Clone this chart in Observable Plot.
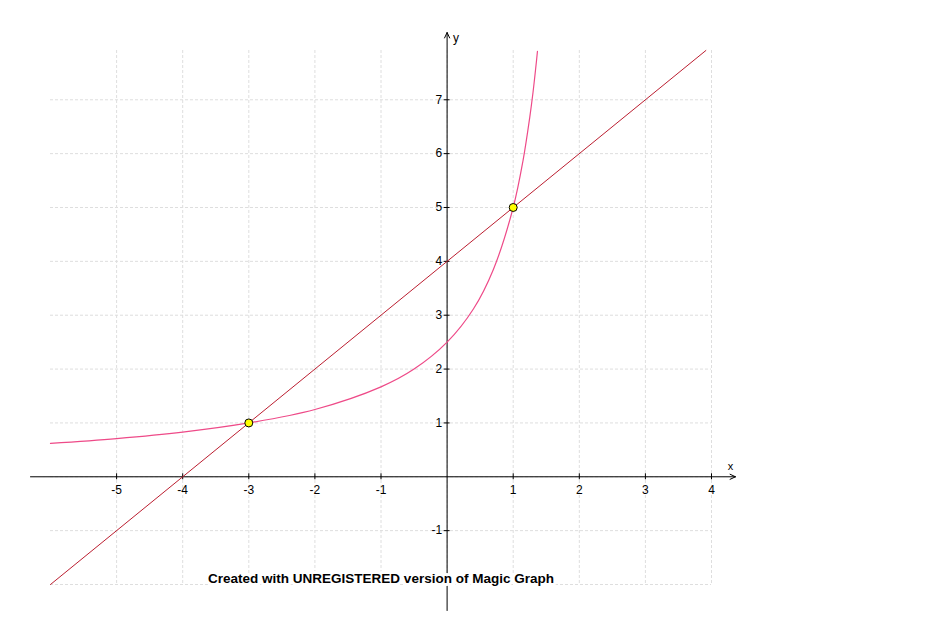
<!DOCTYPE html>
<html>
<head>
<meta charset="utf-8">
<script src="https://cdn.jsdelivr.net/npm/d3@7"></script>
<script src="https://cdn.jsdelivr.net/npm/@observablehq/plot@0.6"></script>
<style>
  html, body { margin: 0; padding: 0; background: #fff; }
  svg { display: block; }
</style>
</head>
<body>
<div id="chart"></div>
<script>
// Axis domains
const xDomain = [-6, 4];
const yDomain = [-2, 7.915];

// Tick values / labels
const xTicks = [-5, -4, -3, -2, -1, 1, 2, 3, 4];
const yTicks = [-1, 1, 2, 3, 4, 5, 6, 7];
const xGrid = [-5, -4, -3, -2, -1, 0, 1, 2, 3, 4];
const yGrid = [-2, -1, 0, 1, 2, 3, 4, 5, 6, 7];

// Straight line (read endpoints)
const lineX = [-6, 3.915];
const lineY = [-2, 7.915];

// Curve points
const curveX = [-6, -5, -4, -3, -2, -1, -0.5, 0, 0.4, 0.7, 1, 1.15, 1.25, 1.3, 1.34, 1.367];
const curveY = [0.62, 0.71, 0.83, 1.0, 1.25, 1.67, 2.0, 2.5, 3.12, 3.85, 5.0, 5.88, 6.67, 7.14, 7.58, 7.9];

// Intersection points
const ptX = [-3, 1];
const ptY = [1, 5];

const caption = "Created with UNREGISTERED version of Magic Graph";

const lineData = lineX.map((x, i) => ({x, y: lineY[i]}));
const curveData = curveX.map((x, i) => ({x, y: curveY[i]}));
const pts = ptX.map((x, i) => ({x, y: ptY[i]}));

const font = "Liberation Sans, Arial, sans-serif";
const gridStyle = {stroke: "#dedede", strokeDasharray: "3,2", strokeWidth: 1};

const chart = Plot.plot({
  width: 950,
  height: 639,
  marginLeft: 50,
  marginRight: 239,
  marginTop: 50,
  marginBottom: 55,
  style: {background: "#fff", fontFamily: font, fontSize: "12px", overflow: "visible"},
  x: {domain: xDomain, axis: null},
  y: {domain: yDomain, axis: null},
  marks: [
    Plot.ruleX(xGrid, {x: d => d, ...gridStyle}),
    Plot.ruleY(yGrid, {y: d => d, ...gridStyle}),
    // axes with arrowheads
    Plot.arrow([0], {x1: xDomain[0], x2: xDomain[1], y1: 0, y2: 0, insetStart: -20, insetEnd: -24,
      stroke: "#000", strokeWidth: 1, headLength: 9, headAngle: 50, bend: 0}),
    Plot.arrow([0], {x1: 0, x2: 0, y1: yDomain[0], y2: yDomain[1], insetStart: -26, insetEnd: -18,
      stroke: "#000", strokeWidth: 1, headLength: 9, headAngle: 50, bend: 0}),
    // tick marks
    Plot.ruleX(xTicks, {x: d => d, y1: 0, y2: 0, insetTop: -3, insetBottom: -3, stroke: "#000"}),
    Plot.ruleY(yTicks, {y: d => d, x1: 0, x2: 0, insetLeft: -3, insetRight: -3, stroke: "#000"}),
    // tick labels
    Plot.text(xTicks, {x: d => d, y: 0, text: d => String(d), dy: 13, fill: "#000", fontSize: 12}),
    Plot.text(yTicks, {x: 0, y: d => d, text: d => String(d), dx: -5, textAnchor: "end", fill: "#000", fontSize: 12}),
    // axis names
    Plot.text(["x"], {x: xDomain[1], y: 0, text: d => d, dx: 19, dy: -10, fill: "#000", fontSize: 11}),
    Plot.text(["y"], {x: 0, y: yDomain[1], text: d => d, dx: 6, dy: -12, textAnchor: "start", fill: "#000", fontSize: 12}),
    // data
    Plot.line(lineData, {x: "x", y: "y", stroke: "#bb1e30", strokeWidth: 1}),
    Plot.line(curveData, {x: "x", y: "y", stroke: "#ee4a88", strokeWidth: 1.2, curve: "catmull-rom"}),
    Plot.dot(pts, {x: "x", y: "y", r: 4, fill: "#ffff00", stroke: "#000", strokeWidth: 1}),
    // caption
    Plot.text([caption], {frameAnchor: "bottom", text: d => d, dy: -2, fontWeight: "bold", fontSize: 13.5,
      fill: "#000", stroke: "#fff", strokeWidth: 6})
  ]
});
document.getElementById("chart").append(chart);
</script>
</body>
</html>
